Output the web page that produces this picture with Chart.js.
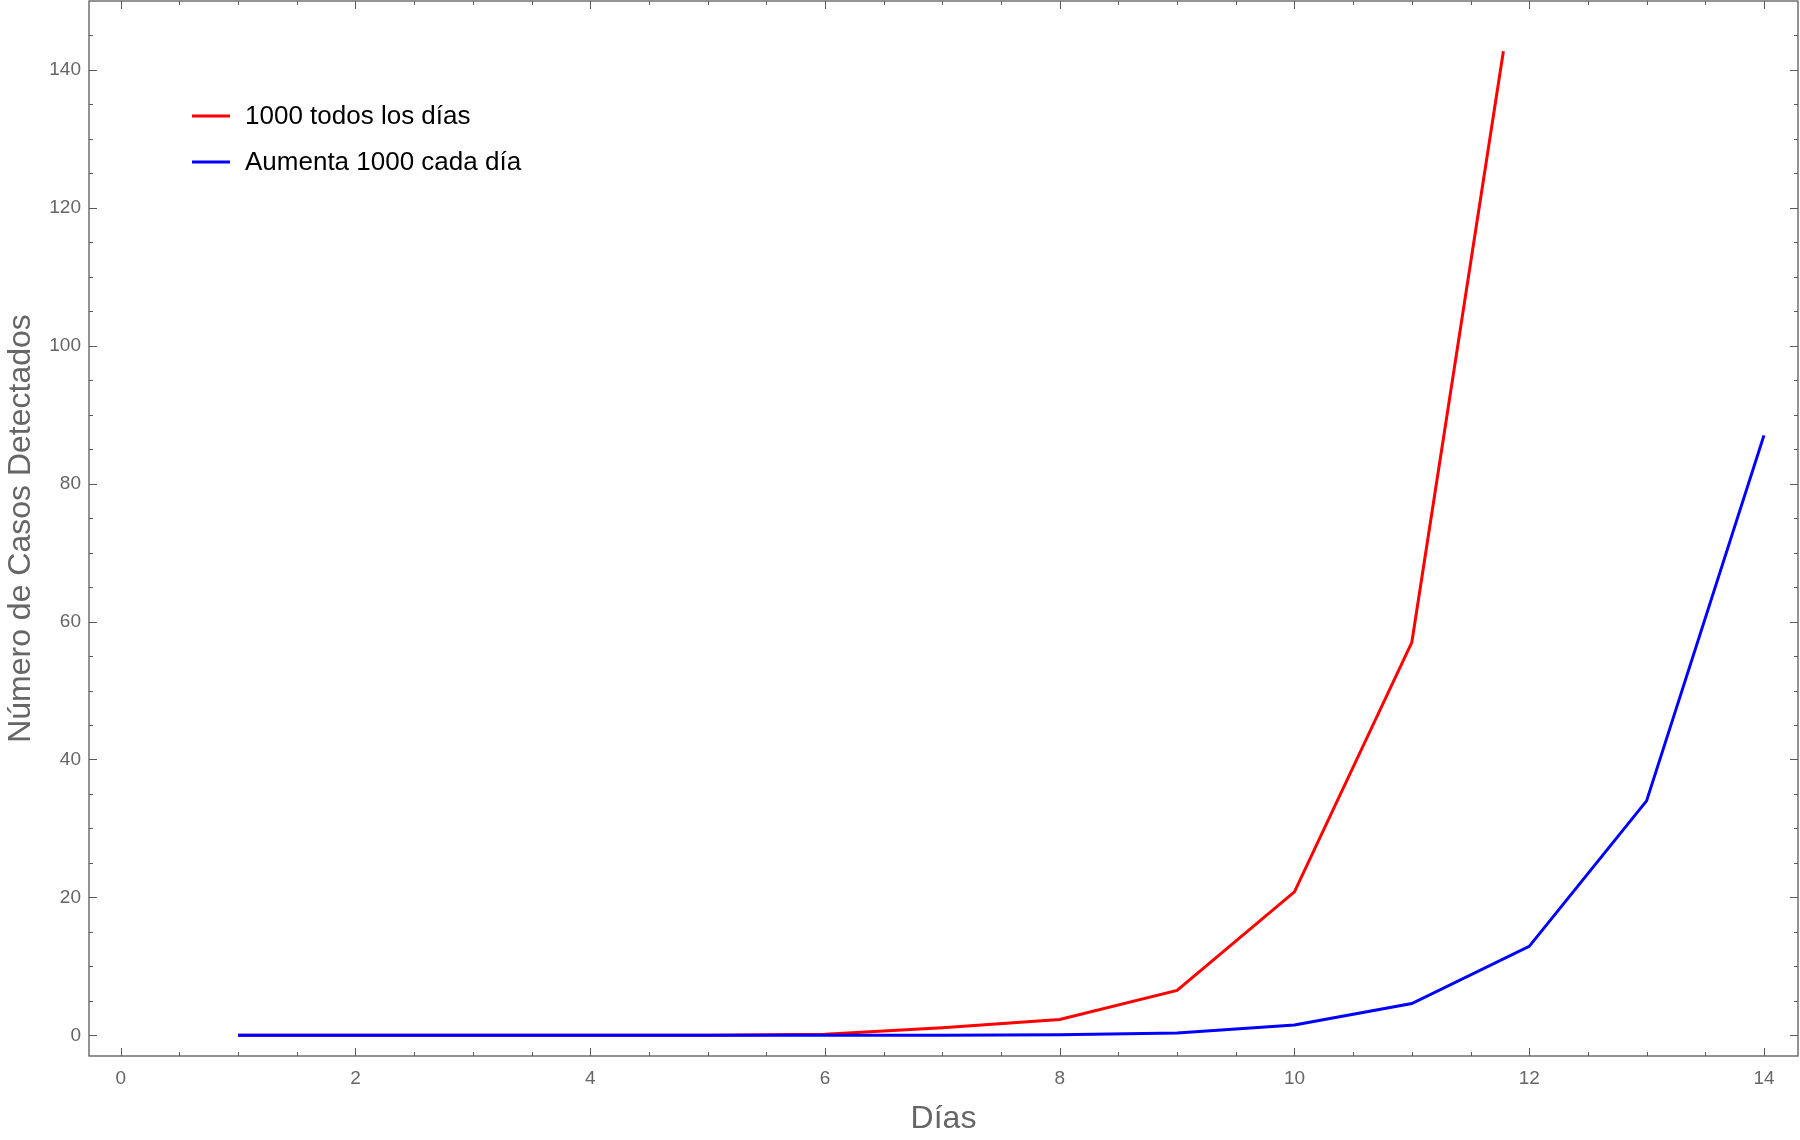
<!DOCTYPE html>
<html>
<head>
<meta charset="utf-8">
<script src="https://cdn.jsdelivr.net/npm/chart.js@4.4.1/dist/chart.umd.min.js"></script>
<style>html,body{margin:0;padding:0;background:#fff}</style>
</head>
<body>
<canvas id="chart" width="1800" height="1140"></canvas>
<script>
// ===== datos =====
const diasRojo   = [1, 2, 3, 4, 5, 6, 7, 8, 9, 10, 11, 11.78];
const casosRojo  = [0, 0, 0, 0, 0.02, 0.15, 1.1, 2.3, 6.5, 20.8, 57, 142.7];
const diasAzul   = [1, 2, 3, 4, 5, 6, 7, 8, 9, 10, 11, 12, 13, 14];
const casosAzul  = [0, 0, 0, 0, 0, 0, 0.02, 0.08, 0.35, 1.5, 4.6, 12.9, 34, 87];
const xTickVals  = [0, 2, 4, 6, 8, 10, 12, 14];
const yTickVals  = [0, 20, 40, 60, 80, 100, 120, 140];
const seriesNames = ["1000 todos los días", "Aumenta 1000 cada día"];

const FONT = "'Liberation Sans', Arial, sans-serif";
const FRAME = "#5a5a5a";

const toPts = (xs, ys) => xs.map((x, i) => ({ x, y: ys[i] }));

// marco estilo Mathematica con marcas hacia dentro en los cuatro lados
const framePlugin = {
  id: "frame",
  afterDraw(chart) {
    const { ctx, chartArea: a, scales: { x, y } } = chart;
    ctx.save();
    ctx.strokeStyle = FRAME;
    ctx.lineWidth = 1.3;
    ctx.strokeRect(a.left, a.top, a.right - a.left, a.bottom - a.top);
    ctx.lineWidth = 1;
    const tick = (x1, y1, x2, y2) => { ctx.beginPath(); ctx.moveTo(x1, y1); ctx.lineTo(x2, y2); ctx.stroke(); };
    for (let v = -0.5; v <= 15; v += 0.5) {
      if (v < x.min || v > x.max) continue;
      const px = Math.round(x.getPixelForValue(v)) + 0.5;
      const len = (v % 2 === 0) ? 8 : 4;
      tick(px, a.bottom, px, a.bottom - len);
      tick(px, a.top, px, a.top + len);
    }
    for (let v = -5; v <= 150; v += 5) {
      if (v < y.min || v >= y.max - 0.5) continue;
      const py = Math.round(y.getPixelForValue(v)) + 0.5;
      const len = (v % 20 === 0) ? 8 : 4;
      tick(a.left, py, a.left + len, py);
      tick(a.right, py, a.right - len, py);
    }
    ctx.restore();
  }
};

// leyenda dentro del área de trazado
const legendPlugin = {
  id: "insideLegend",
  afterDraw(chart) {
    const { ctx } = chart;
    ctx.save();
    ctx.font = "26px " + FONT;
    ctx.textBaseline = "middle";
    chart.data.datasets.forEach((ds, i) => {
      const yy = 116 + i * 46;
      ctx.strokeStyle = ds.borderColor;
      ctx.lineWidth = 3;
      ctx.beginPath(); ctx.moveTo(192, yy); ctx.lineTo(230, yy); ctx.stroke();
      ctx.fillStyle = "#000";
      ctx.fillText(ds.label, 245, yy + 1);
    });
    ctx.restore();
  }
};

new Chart(document.getElementById("chart"), {
  type: "line",
  data: {
    datasets: [
      { label: seriesNames[0], data: toPts(diasRojo, casosRojo), borderColor: "#ff0000", borderWidth: 3, pointRadius: 0, tension: 0, order: 1 },
      { label: seriesNames[1], data: toPts(diasAzul, casosAzul), borderColor: "#0000ff", borderWidth: 3, pointRadius: 0, tension: 0, order: 0 }
    ]
  },
  options: {
    responsive: false,
    animation: false,
    layout: { padding: { top: 1, right: 2, left: 0, bottom: 0 } },
    plugins: { legend: { display: false }, tooltip: { enabled: false } },
    scales: {
      x: {
        type: "linear", min: -0.27, max: 14.29,
        afterBuildTicks: s => { s.ticks = xTickVals.map(v => ({ value: v })); },
        afterFit: s => { s.height = 84; s.paddingLeft = 0; s.paddingRight = 0; },
        grid: { display: false, drawTicks: false },
        border: { display: false },
        ticks: { color: "#666", font: { family: FONT, size: 19 }, padding: 11, maxRotation: 0 },
        title: { display: true, text: "Días", color: "#666", font: { family: FONT, size: 32 }, padding: { top: 4, bottom: 2 } }
      },
      y: {
        type: "linear", min: -3, max: 150,
        afterBuildTicks: s => { s.ticks = yTickVals.map(v => ({ value: v })); },
        afterFit: s => { s.width = 89; s.paddingTop = 0; s.paddingBottom = 0; },
        grid: { display: false, drawTicks: false },
        border: { display: false },
        ticks: { color: "#666", font: { family: FONT, size: 19 }, padding: 8 },
        title: { display: true, text: "Número de Casos Detectados", color: "#666", font: { family: FONT, size: 32 }, padding: { top: 2, bottom: 4 } }
      }
    }
  },
  plugins: [framePlugin, legendPlugin]
});
</script>
</body>
</html>
